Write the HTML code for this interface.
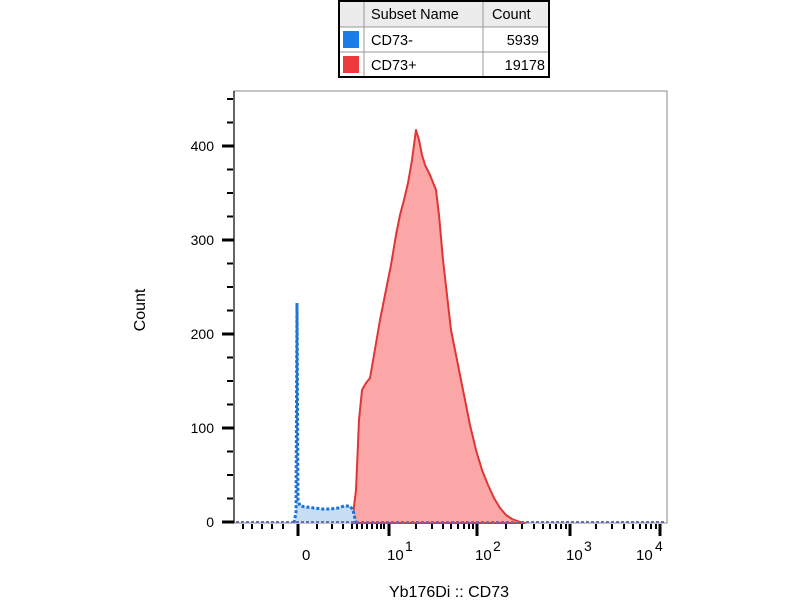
<!DOCTYPE html>
<html><head><style>
body{margin:0;background:#fff;width:800px;height:600px;overflow:hidden;font-family:"Liberation Sans",Arial,sans-serif;}
</style></head><body>
<svg width="800" height="600" xmlns="http://www.w3.org/2000/svg" font-family="Liberation Sans, Arial, sans-serif">
<rect x="339" y="1" width="210" height="76" fill="#fff" stroke="#000" stroke-width="2"/>
<rect x="340" y="2" width="208" height="25" fill="#ececec"/>
<line x1="340" y1="27" x2="548" y2="27" stroke="#999"/>
<line x1="340" y1="52" x2="548" y2="52" stroke="#999"/>
<line x1="364" y1="2" x2="364" y2="76" stroke="#999"/>
<line x1="483" y1="2" x2="483" y2="76" stroke="#999"/>
<text x="371" y="19" font-size="14.5">Subset Name</text>
<text x="492" y="19" font-size="14.5">Count</text>
<rect x="343" y="31" width="16" height="17" fill="#1a7de8"/>
<rect x="343" y="56" width="16" height="17" fill="#ee3a3a"/>
<text x="371" y="45" font-size="14.5">CD73-</text>
<text x="539" y="45" font-size="14.5" text-anchor="end">5939</text>
<text x="371" y="70" font-size="14.5">CD73+</text>
<text x="545" y="70" font-size="14.5" text-anchor="end">19178</text>

<rect x="234" y="91" width="433" height="432" fill="#fff" stroke="#888" stroke-width="1"/>
<line x1="234" y1="91" x2="234" y2="523" stroke="#333" stroke-width="1.5"/>

<path d="M352,523 L356,490 L359,420 L362,390 L366,383 L370,378 L374,355 L380,320 L386,290 L391,265 L396,235 L400,215 L404,200 L408,183 L412,160 L416,130 L419,140 L422,155 L425,165 L430,175 L436,190 L439,215 L443,260 L447,295 L451,330 L456,355 L461,380 L465,400 L470,425 L476,450 L482,470 L488,485 L494,498 L500,508 L506,515 L512,519 L520,522 L525,523 Z" fill="#fca7a7" stroke="#e03535" stroke-width="2" stroke-linejoin="round"/>

<path d="M294,523 L296,512 L297,303 L298,500 L300,506 L306,507 L314,508 L322,509 L330,509 L338,508 L344,506 L350,506 L353,510 L356,523 Z" fill="#c7def5"/>
<path d="M294,523 L296,512 L297,303 L298,500 L300,506 L306,507 L314,508 L322,509 L330,509 L338,508 L344,506 L350,506 L353,510 L356,523" fill="none" stroke="#1a72d6" stroke-width="3" stroke-dasharray="3,2"/>
<line x1="236" y1="522" x2="666" y2="522" stroke="#6a6fb0" stroke-width="2" stroke-dasharray="3,2"/>

<g stroke="#000">
<line x1="222" y1="522" x2="234" y2="522" stroke-width="3"/>
<line x1="222" y1="428" x2="234" y2="428" stroke-width="3"/>
<line x1="222" y1="334" x2="234" y2="334" stroke-width="3"/>
<line x1="222" y1="240" x2="234" y2="240" stroke-width="3"/>
<line x1="222" y1="146" x2="234" y2="146" stroke-width="3"/>
<g stroke-width="2">
<line x1="227" y1="498.5" x2="233" y2="498.5"/><line x1="227" y1="475" x2="233" y2="475"/><line x1="227" y1="451.5" x2="233" y2="451.5"/>
<line x1="227" y1="404.5" x2="233" y2="404.5"/><line x1="227" y1="381" x2="233" y2="381"/><line x1="227" y1="357.5" x2="233" y2="357.5"/>
<line x1="227" y1="310.5" x2="233" y2="310.5"/><line x1="227" y1="287" x2="233" y2="287"/><line x1="227" y1="263.5" x2="233" y2="263.5"/>
<line x1="227" y1="216.5" x2="233" y2="216.5"/><line x1="227" y1="193" x2="233" y2="193"/><line x1="227" y1="169.5" x2="233" y2="169.5"/>
<line x1="227" y1="122.5" x2="233" y2="122.5"/><line x1="227" y1="99" x2="233" y2="99"/>
</g>
</g>
<g font-size="14" text-anchor="end">
<text x="214" y="527">0</text>
<text x="214" y="433">100</text>
<text x="214" y="339">200</text>
<text x="214" y="245">300</text>
<text x="214" y="151">400</text>
</g>
<text transform="translate(145,310) rotate(-90)" font-size="16" text-anchor="middle">Count</text>

<g stroke="#000" stroke-width="2">
<line x1="243" y1="524" x2="243" y2="529"/><line x1="252" y1="524" x2="252" y2="529"/><line x1="262" y1="524" x2="262" y2="529"/><line x1="272" y1="524" x2="272" y2="529"/><line x1="283" y1="524" x2="283" y2="529"/>
<line x1="317" y1="524" x2="317" y2="529"/><line x1="332" y1="524" x2="332" y2="529"/><line x1="343" y1="524" x2="343" y2="529"/><line x1="352" y1="524" x2="352" y2="529"/><line x1="357" y1="524" x2="357" y2="529"/>
<line x1="362" y1="524" x2="362" y2="529"/><line x1="367" y1="524" x2="367" y2="529"/><line x1="372" y1="524" x2="372" y2="529"/><line x1="377" y1="524" x2="377" y2="529"/><line x1="381" y1="524" x2="381" y2="529"/><line x1="384" y1="524" x2="384" y2="529"/>
<line x1="416" y1="524" x2="416" y2="529"/><line x1="432" y1="524" x2="432" y2="529"/><line x1="443" y1="524" x2="443" y2="529"/><line x1="451" y1="524" x2="451" y2="529"/><line x1="458" y1="524" x2="458" y2="529"/><line x1="464" y1="524" x2="464" y2="529"/><line x1="469" y1="524" x2="469" y2="529"/><line x1="473" y1="524" x2="473" y2="529"/>
<line x1="506" y1="524" x2="506" y2="529"/><line x1="522" y1="524" x2="522" y2="529"/><line x1="534" y1="524" x2="534" y2="529"/><line x1="543" y1="524" x2="543" y2="529"/><line x1="550" y1="524" x2="550" y2="529"/><line x1="556" y1="524" x2="556" y2="529"/><line x1="561" y1="524" x2="561" y2="529"/><line x1="566" y1="524" x2="566" y2="529"/>
<line x1="596" y1="524" x2="596" y2="529"/><line x1="612" y1="524" x2="612" y2="529"/><line x1="624" y1="524" x2="624" y2="529"/><line x1="633" y1="524" x2="633" y2="529"/><line x1="640" y1="524" x2="640" y2="529"/><line x1="646" y1="524" x2="646" y2="529"/><line x1="651" y1="524" x2="651" y2="529"/><line x1="656" y1="524" x2="656" y2="529"/>
</g>
<g stroke="#000" stroke-width="3">
<line x1="298" y1="524" x2="298" y2="536"/><line x1="389" y1="524" x2="389" y2="536"/><line x1="477" y1="524" x2="477" y2="536"/><line x1="570" y1="524" x2="570" y2="536"/><line x1="660" y1="524" x2="660" y2="536"/>
</g>
<g font-size="15">
<text x="302" y="560">0</text>
<text x="387" y="560">10</text><text x="405" y="551" font-size="14">1</text>
<text x="475" y="560">10</text><text x="493" y="551" font-size="14">2</text>
<text x="566" y="560">10</text><text x="584" y="551" font-size="14">3</text>
<text x="636" y="560">10</text><text x="655" y="551" font-size="14">4</text>
</g>
<text x="449" y="597" font-size="16" text-anchor="middle">Yb176Di :: CD73</text>
</svg>
</body></html>
